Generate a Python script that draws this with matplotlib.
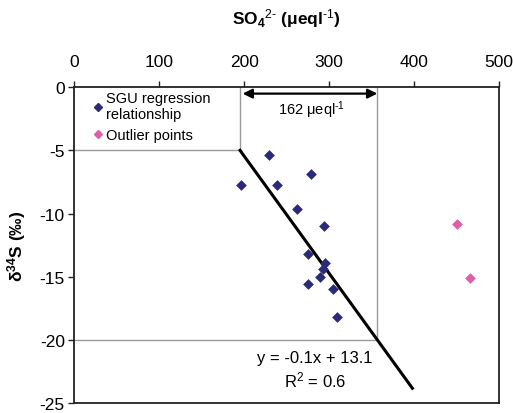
import numpy as np
import matplotlib
matplotlib.use("Agg")
import matplotlib.pyplot as plt
from matplotlib.lines import Line2D

plt.rcParams.update({
    "font.family": ["Liberation Sans", "DejaVu Sans"],
    "font.size": 12.5,
    "axes.unicode_minus": False,
    "mathtext.fontset": "custom",
    "mathtext.rm": "Liberation Sans",
    "mathtext.bf": "Liberation Sans:bold",
    "mathtext.it": "Liberation Sans:italic",
})

NAVY, PINK, GUIDE = "#2b2a78", "#de5fa8", "#9a9a9a"

# SGU samples used in the regression
sgu_so4 = [195.8, 228.7, 238.9, 278.2, 262.5, 293.9, 275.4,
           295.1, 293.1, 289.2, 275.4, 304.9, 308.8]
sgu_d34s = [-7.7, -5.4, -7.7, -6.9, -9.6, -11.0, -13.2,
            -13.9, -14.4, -15.0, -15.6, -16.0, -18.2]

# samples left out of the fit
out_so4 = [450.2, 465.8]
out_d34s = [-10.8, -15.1]

# fitted line and its reported stats
slope, intercept, r2 = -0.0928, 13.1, 0.6
fit_range = [195.0, 398.0]
guide_levels = [-5.0, -20.0]

fig = plt.figure(figsize=(5.13, 4.14), dpi=100)
ax = fig.add_axes([0.1452, 0.0242, 0.8275, 0.7625])

# guide lines: where the fit hits -5 and -20 permil
xg = [(lv - intercept) / slope for lv in guide_levels]
for lv, xv in zip(guide_levels, xg):
    ax.plot([0, xv], [lv, lv], color=GUIDE, lw=1, zorder=1)
    ax.plot([xv, xv], [0, lv], color=GUIDE, lw=1, zorder=1)

ax.annotate("", xy=(xg[1], -0.5), xytext=(xg[0] + 3, -0.5),
            arrowprops=dict(arrowstyle="<|-|>", color="black", lw=1.6,
                            mutation_scale=14, shrinkA=0, shrinkB=0))
ax.text((xg[0] + xg[1]) / 2 + 3, -1.75,
        f"{xg[1] - xg[0]:.0f} μeql$^{{\\text{{-1}}}}$", ha="center",
        va="center", fontsize=10.5)

ax.scatter(sgu_so4, sgu_d34s, marker="D", s=30, color=NAVY, lw=0, zorder=3)
ax.scatter(out_so4, out_d34s, marker="D", s=30, color=PINK, lw=0, zorder=3)

xf = np.array(fit_range)
ax.plot(xf, slope * xf + intercept, color="black", lw=2.2, zorder=2)
ax.text(283, -21.4, f"y = {slope:.1f}x + {intercept:.1f}", ha="center",
        va="center", fontsize=12)
ax.text(283, -23.1, f"R$^2$ = {r2:.1f}", ha="center", va="center",
        fontsize=12)

ax.set_xlim(0, 500)
ax.set_ylim(-25, 0)
ax.set_xticks(range(0, 501, 100))
ax.set_yticks(range(-25, 1, 5))
ax.xaxis.tick_top()
ax.xaxis.set_label_position("top")
ax.tick_params(direction="out", length=4, width=1, pad=9, color="#222")
ax.tick_params(axis="y", pad=3)
for s in ax.spines.values():
    s.set_color("#222")
    s.set_linewidth(1.3)

ax.set_xlabel(r"SO$_\mathbf{4}$$^\mathbf{\text{2-}}$ (μeql$^\mathbf{\text{-1}}$)",
              fontweight="bold", fontsize=12.5, labelpad=22)
ax.set_ylabel(r"δ$^\mathbf{34}$S (‰)", fontweight="bold", fontsize=12.5,
              labelpad=8)

handles = [Line2D([], [], marker="D", ls="none", color=NAVY, markersize=4.5),
           Line2D([], [], marker="D", ls="none", color=PINK, markersize=4.5)]
ax.legend(handles, ["SGU regression\nrelationship", "Outlier points"],
          loc="upper left", bbox_to_anchor=(0.02, 1.02), frameon=False,
          fontsize=10.5, handlelength=0.6, handletextpad=0.3,
          labelspacing=0.45, borderaxespad=0.3)

fig.savefig("out.png", dpi=100, facecolor="white")
